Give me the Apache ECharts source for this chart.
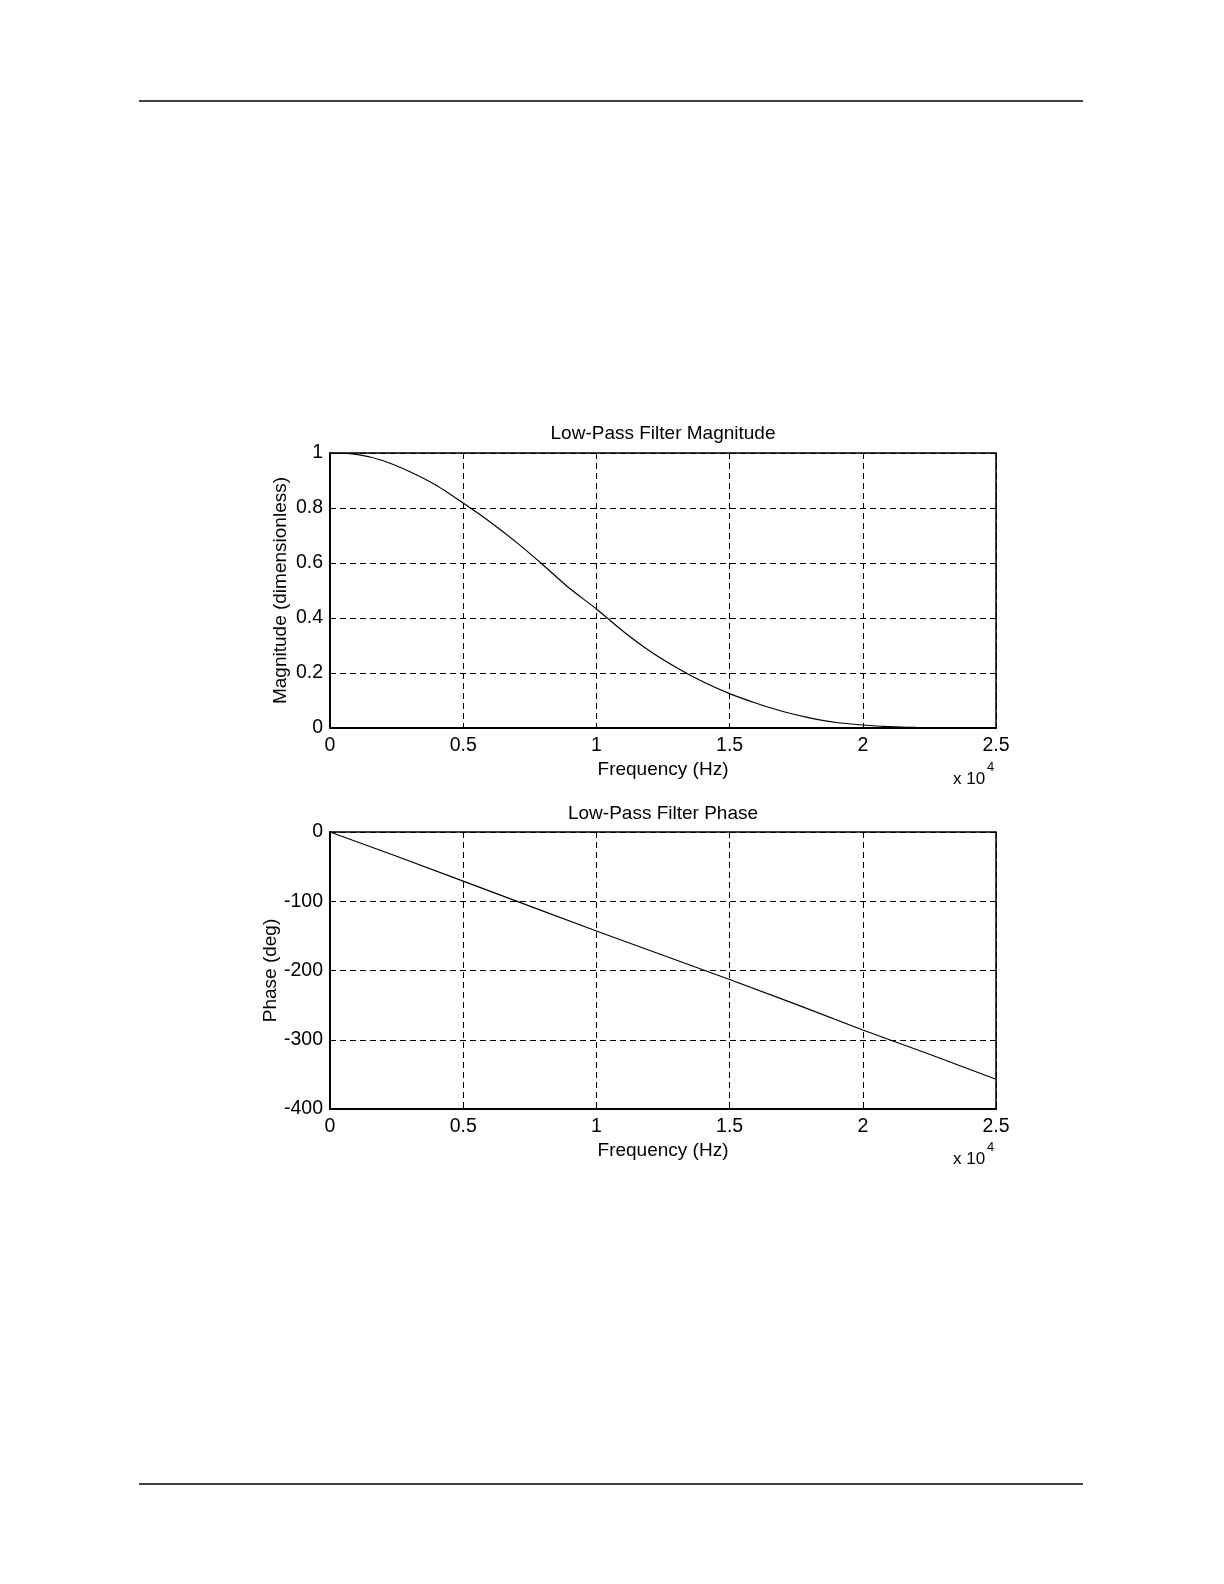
<!DOCTYPE html>
<html>
<head>
<meta charset="utf-8">
<script src="https://cdn.jsdelivr.net/npm/echarts@6/dist/echarts.min.js"></script>
<style>
  html, body { margin: 0; padding: 0; background: #fff; }
  #chart { width: 1224px; height: 1584px; }
</style>
</head>
<body>
<div id="chart"></div>
<script>
// ---- Data ----
const magTitle = "Low-Pass Filter Magnitude";
const phaseTitle = "Low-Pass Filter Phase";
const xAxisTitle = "Frequency (Hz)";
const magAxisTitle = "Magnitude (dimensionless)";
const phaseAxisTitle = "Phase (deg)";

// Frequency samples (Hz) for the magnitude curve
const magFreq = [0, 1000, 2000, 3000, 4000, 5000, 6000, 7000, 8000, 9000, 10000,
  11000, 12000, 13000, 14000, 15000, 16000, 17000, 18000, 19000, 20000,
  21000, 22000, 23000, 24000, 25000];
// Magnitude (dimensionless)
const magnitude = [1.0, 0.995, 0.972, 0.932, 0.882, 0.818, 0.75, 0.675, 0.593, 0.507, 0.433,
  0.352, 0.28, 0.22, 0.168, 0.125, 0.09, 0.06, 0.037, 0.02, 0.011,
  0.005, 0.002, 0.001, 0.0, 0.0];

// Frequency samples (Hz) for the phase curve
const phaseFreq = [0, 2500, 5000, 7500, 10000, 12500, 15000, 17500, 20000, 22500, 25000];
// Phase (deg)
const phase = [0, -35, -71, -107, -143, -178, -213, -249, -286, -321, -357];

// Tick settings
const freqTicks = { min: 0, max: 25000, interval: 5000 };
const magTicks = { min: 0, max: 1, interval: 0.2 };
const phaseTicks = { min: -400, max: 0, interval: 100 };

// ---- Chart ----
const FONT = "Liberation Sans, Arial, Helvetica, sans-serif";
const chart = echarts.init(document.getElementById('chart'), null, { renderer: 'canvas' });

function xAxisCfg(gi) {
  return {
    gridIndex: gi, type: 'value',
    min: freqTicks.min, max: freqTicks.max, interval: freqTicks.interval,
    axisLine: { show: true, onZero: false, lineStyle: { color: '#000', width: 2 } },
    axisTick: { show: false },
    axisLabel: { color: '#000', fontSize: 19.5, fontFamily: FONT, margin: 8,
      showMinLabel: true, showMaxLabel: true,
      formatter: v => String(+(v / 10000).toFixed(2)) },
    splitLine: { show: true, lineStyle: { color: '#000', type: [6, 4], width: 1 } },
    name: xAxisTitle, nameLocation: 'middle', nameGap: 32,
    nameTextStyle: { color: '#000', fontSize: 19, fontFamily: FONT }
  };
}
function yAxisCfg(gi, ticks, name, gap) {
  return {
    gridIndex: gi, type: 'value',
    min: ticks.min, max: ticks.max, interval: ticks.interval,
    axisLine: { show: true, onZero: false, lineStyle: { color: '#000', width: 2 } },
    axisTick: { show: false },
    axisLabel: { color: '#000', fontSize: 19.5, fontFamily: FONT, margin: 7,
      showMinLabel: true, showMaxLabel: true },
    splitLine: { show: true, lineStyle: { color: '#000', type: [6, 4], width: 1 } },
    name: name, nameLocation: 'middle', nameGap: gap, nameMoveOverlap: false,
    nameTextStyle: { color: '#000', fontSize: 19, fontFamily: FONT }
  };
}

const gridBox = { show: true, borderColor: '#000', borderWidth: 1.5, backgroundColor: 'transparent' };

const option = {
  backgroundColor: '#fff',
  animation: false,
  title: [
    { text: magTitle, left: 663, top: 424, textAlign: 'center', padding: 0,
      textStyle: { color: '#000', fontSize: 19, fontWeight: 'normal', fontFamily: FONT } },
    { text: phaseTitle, left: 663, top: 804, textAlign: 'center', padding: 0,
      textStyle: { color: '#000', fontSize: 19, fontWeight: 'normal', fontFamily: FONT } }
  ],
  grid: [
    Object.assign({ left: 330, top: 453, width: 666, height: 275 }, gridBox),
    Object.assign({ left: 330, top: 832, width: 666, height: 277 }, gridBox)
  ],
  xAxis: [xAxisCfg(0), xAxisCfg(1)],
  yAxis: [
    yAxisCfg(0, magTicks, magAxisTitle, 40),
    yAxisCfg(1, phaseTicks, phaseAxisTitle, 50)
  ],
  series: [
    { type: 'line', xAxisIndex: 0, yAxisIndex: 0, showSymbol: false, smooth: 0.25,
      lineStyle: { color: '#000', width: 1.2 },
      data: magFreq.map((f, i) => [f, magnitude[i]]) },
    { type: 'line', xAxisIndex: 1, yAxisIndex: 1, showSymbol: false, smooth: false,
      lineStyle: { color: '#000', width: 1.2 },
      data: phaseFreq.map((f, i) => [f, phase[i]]) }
  ],
  graphic: [
    { type: 'line', shape: { x1: 139, y1: 101, x2: 1083, y2: 101 }, style: { stroke: '#000', lineWidth: 1.5 } },
    { type: 'line', shape: { x1: 139, y1: 1484, x2: 1083, y2: 1484 }, style: { stroke: '#000', lineWidth: 1.5 } },
    { type: 'text', left: 953, top: 771, style: { text: 'x 10', fill: '#000', font: '17px ' + FONT } },
    { type: 'text', left: 987, top: 761, style: { text: '4', fill: '#000', font: '13px ' + FONT } },
    { type: 'text', left: 953, top: 1151, style: { text: 'x 10', fill: '#000', font: '17px ' + FONT } },
    { type: 'text', left: 987, top: 1141, style: { text: '4', fill: '#000', font: '13px ' + FONT } }
  ]
};
chart.setOption(option);
</script>
</body>
</html>
